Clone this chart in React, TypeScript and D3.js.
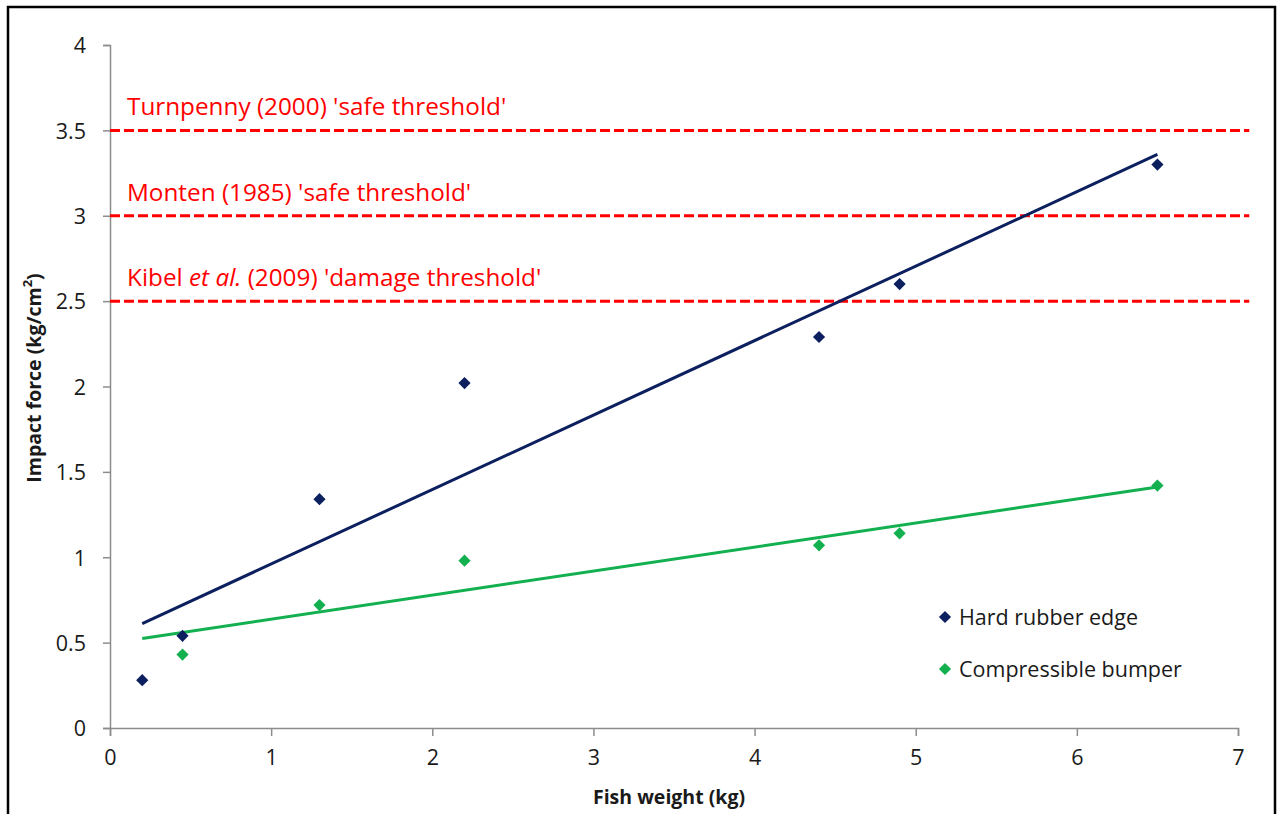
import React, { useEffect, useRef } from 'react';
import * as d3 from 'd3';

// fish weight (kg)
const weights = [0.2, 0.45, 1.3, 2.2, 4.4, 4.9, 6.5];
const hardRubber = [0.28, 0.54, 1.34, 2.02, 2.29, 2.6, 3.3];
// no compressible bumper value at 0.2 kg
const bumperWeights = [0.45, 1.3, 2.2, 4.4, 4.9, 6.5];
const bumper = [0.43, 0.72, 0.98, 1.07, 1.14, 1.42];

const thresholds = [3.5, 3.0, 2.5];
const thresholdLabels = [
    ["Turnpenny (2000) 'safe threshold'"],
    ["Monten (1985) 'safe threshold'"],
    ['Kibel ', 'et al.', " (2009) 'damage threshold'"],
];

const xTicks = [0, 1, 2, 3, 4, 5, 6, 7];
const yTicks = [0, 0.5, 1, 1.5, 2, 2.5, 3, 3.5, 4];

const NAVY = '#0c1f5e';
const GREEN = '#13b04f';
const FONT = "'Open Sans', 'Liberation Sans', sans-serif";

// least squares fit
const fit = (xs: number[], ys: number[]) => {
    const mx = d3.mean(xs) as number;
    const my = d3.mean(ys) as number;
    let sxy = 0, sxx = 0;
    xs.forEach((x, i) => {
        sxy += (x - mx) * (ys[i] - my);
        sxx += (x - mx) * (x - mx);
    });
    const b = sxy / sxx;
    return (x: number) => my + b * (x - mx);
};

const App = () => {
    const ref = useRef<SVGSVGElement>(null);

    const W = 1279, H = 814;
    const margin = { left: 110, top: 45, right: 41, bottom: 86 };

    useEffect(() => {
        const svg = d3.select(ref.current);
        svg.selectAll('*').remove();

        const x = d3.scaleLinear().domain([0, 7]).range([margin.left, W - margin.right]);
        const y = d3.scaleLinear().domain([0, 4]).range([H - margin.bottom, margin.top]);

        svg.append('rect').attr('width', W).attr('height', H).attr('fill', '#fff');
        // outer frame
        svg.append('path')
            .attr('d', `M8,${H + 5} V7 H1275 V${H + 5}`)
            .attr('fill', 'none').attr('stroke', '#000').attr('stroke-width', 2.5);

        // axes
        const axisColor = '#8c8c8c';
        const yAxis = svg.append('g')
            .attr('transform', `translate(${margin.left},0)`)
            .call(d3.axisLeft(y).tickValues(yTicks).tickSize(7).tickPadding(17)
                .tickFormat(d => String(d)));
        const xAxis = svg.append('g')
            .attr('transform', `translate(0,${H - margin.bottom})`)
            .call(d3.axisBottom(x).tickValues(xTicks).tickSize(8).tickPadding(14)
                .tickFormat(d => String(d)));
        [xAxis, yAxis].forEach(a => {
            a.select('.domain').attr('stroke', axisColor).attr('stroke-width', 1.5);
            a.selectAll('.tick line').attr('stroke', axisColor).attr('stroke-width', 1.5);
            a.selectAll('.tick text')
                .attr('fill', '#1a1a1a').style('font-family', FONT).style('font-size', '21.5px');
        });
        yAxis.selectAll('.tick text').attr('dy', '0.36em');

        // threshold lines
        thresholds.forEach((t, i) => {
            svg.append('line')
                .attr('x1', x(0)).attr('x2', x(7.07))
                .attr('y1', y(t)).attr('y2', y(t))
                .attr('stroke', '#ff0000').attr('stroke-width', 3)
                .attr('stroke-dasharray', '10,4');
            const txt = svg.append('text')
                .attr('x', 127).attr('y', y(t) - 15)
                .attr('fill', '#ff0000')
                .style('font-family', FONT).style('font-size', '24.3px');
            thresholdLabels[i].forEach(part => {
                txt.append('tspan').text(part)
                    .style('font-style', part === 'et al.' ? 'italic' : 'normal');
            });
        });

        // trend lines over the whole weight range
        const [x0, x1] = d3.extent(weights) as [number, number];
        const lineGen = d3.line<number>().x(d => x(d));
        [
            { xs: weights, ys: hardRubber, color: NAVY },
            { xs: bumperWeights, ys: bumper, color: GREEN },
        ].forEach(s => {
            const f = fit(s.xs, s.ys);
            svg.append('path')
                .datum([x0, x1])
                .attr('d', lineGen.y(d => y(f(d))))
                .attr('stroke', s.color).attr('stroke-width', 3).attr('fill', 'none');
        });

        // points
        const diamond = d3.symbol().type(d3.symbolDiamond2).size(95);
        const drawPts = (xs: number[], ys: number[], color: string) => {
            svg.append('g').selectAll('path')
                .data(xs.map((v, i) => [v, ys[i]]))
                .join('path')
                .attr('d', diamond)
                .attr('transform', d => `translate(${x(d[0])},${y(d[1])})`)
                .attr('fill', color);
        };
        drawPts(weights, hardRubber, NAVY);
        drawPts(bumperWeights, bumper, GREEN);

        // legend
        const legend = [
            { label: 'Hard rubber edge', color: NAVY },
            { label: 'Compressible bumper', color: GREEN },
        ];
        legend.forEach((l, i) => {
            const ly = 617 + i * 52;
            svg.append('path').attr('d', diamond)
                .attr('transform', `translate(945,${ly})`).attr('fill', l.color);
            svg.append('text').attr('x', 959).attr('y', ly).attr('dy', '0.36em')
                .attr('fill', '#1a1a1a')
                .style('font-family', FONT).style('font-size', '21.5px')
                .text(l.label);
        });

        // axis titles
        svg.append('text')
            .attr('x', 669).attr('y', 804).attr('text-anchor', 'middle')
            .style('font-family', FONT).style('font-size', '19.5px').style('font-weight', 'bold')
            .attr('fill', '#1a1a1a')
            .text('Fish weight (kg)');
        const yt = svg.append('text')
            .attr('transform', `translate(41,${378}) rotate(-90)`)
            .attr('text-anchor', 'middle')
            .style('font-family', FONT).style('font-size', '19.5px').style('font-weight', 'bold')
            .attr('fill', '#1a1a1a');
        yt.append('tspan').text('Impact force (kg/cm');
        yt.append('tspan').text('2').attr('baseline-shift', 'super').style('font-size', '13px');
        yt.append('tspan').text(')');
    }, []);

    return (
        <div style={{ position: 'fixed', left: 0, top: 0, width: W, height: H, background: '#fff' }}>
            <svg ref={ref} width={W} height={H} />
        </div>
    );
};

export default App;
